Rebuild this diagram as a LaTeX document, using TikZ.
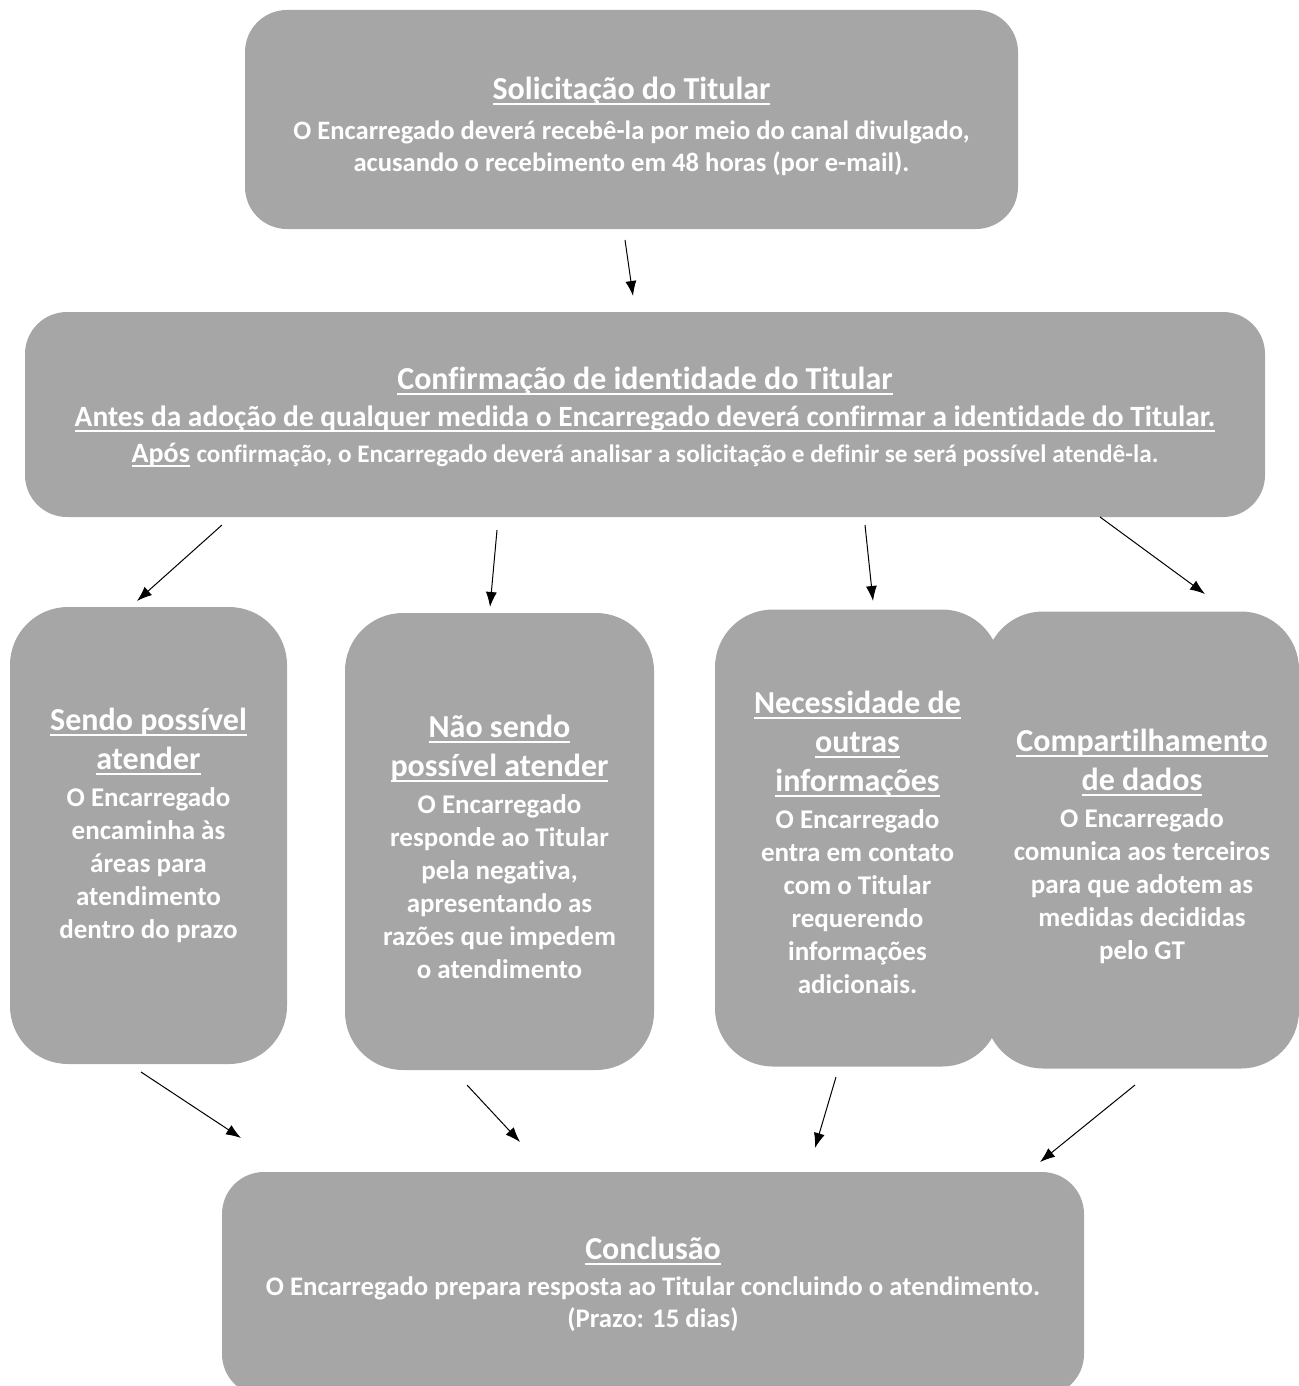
\documentclass[tikz,border=0pt]{standalone}
\usepackage{fontspec}
\setmainfont{Carlito}[Ligatures={NoCommon}]
\usetikzlibrary{arrows.meta}
\definecolor{boxgray}{RGB}{166,166,166}

\newcommand{\uln}[1]{\setbox0=\hbox{#1}\leavevmode\rlap{\vrule width\wd0 height -0.11em depth 0.17em}\box0}
\newcommand{\ttl}[2][32]{{\fontsize{#1}{#1}\selectfont\uln{#2}}}

\begin{document}
\begin{tikzpicture}[x=1pt, y=-1pt,
  flowbox/.style={fill=boxgray, text=white, align=center, inner sep=0pt},
  widebox/.style={flowbox, rounded corners=42pt},
  tallbox/.style={flowbox, rounded corners=58pt, minimum height=457pt,
    font=\bfseries\fontsize{27}{33}\selectfont},
  flowarrow/.style={-{Latex[length=15pt,width=11pt]}, line width=1pt}]

\useasboundingbox (0,0) rectangle (1298,1386);

% top of the flow
\node[widebox, minimum width=773pt, minimum height=219pt,
  font=\bfseries\fontsize{26.6}{32}\selectfont] (sol) at (631.5,119.5)
  {\rule{0pt}{36pt}\ttl{Solicitação do Titular}\\[8pt]
   O Encarregado deverá recebê-la por meio do canal divulgado,\\
   acusando o recebimento em 48 horas (por e-mail).};

\node[widebox, minimum width=1240pt, minimum height=205pt,
  font=\bfseries\fontsize{29.4}{35.5}\selectfont] (conf) at (645,414.5)
  {\rule{0pt}{28pt}\ttl{Confirmação de identidade do Titular}\\[1.5pt]
   \uln{Antes da adoção de qualquer medida o Encarregado deverá confirmar a identidade do Titular.}\\
   {\fontsize{28}{28}\selectfont\uln{Após}} {\fontsize{25.2}{28}\selectfont confirmação, o Encarregado deverá analisar a solicitação e definir se será possível atendê-la.}};

% the four cases
\node[tallbox, minimum width=277pt] (sendo) at (148.5,835.5)
  {\ttl{Sendo possível}\\[6pt]\ttl{atender}\\[4pt]
   O Encarregado\\ encaminha às\\ áreas para\\ atendimento\\ dentro do prazo\rule[-24pt]{0pt}{0pt}};

\node[tallbox, minimum width=309pt] (naosendo) at (499.5,841.5)
  {\rule{0pt}{34pt}\ttl{Não sendo}\\[6pt]\ttl{possível atender}\\[4pt]
   O Encarregado\\ responde ao Titular\\ pela negativa,\\ apresentando as\\ razões que impedem\\ o atendimento};

\node[tallbox, minimum width=285pt] (necess) at (857.5,838)
  {\rule{0pt}{32pt}\ttl{Necessidade de}\\[6pt]\ttl{outras}\\[6pt]\ttl{informações}\\[4pt]
   O Encarregado\\ entra em contato\\ com o Titular\\ requerendo\\ informações\\ adicionais.};

\node[tallbox, minimum width=314pt] (compart) at (1142,840)
  {\rule{0pt}{36pt}\ttl{Compartilhamento}\\[6pt]\ttl{de dados}\\[4pt]
   O Encarregado\\ comunica aos terceiros\\ para que adotem as\\ medidas decididas\\ pelo GT};

% end of the flow
\node[widebox, minimum width=862pt, minimum height=224pt,
  font=\bfseries\fontsize{26.8}{32}\selectfont] (concl) at (653,1284)
  {\ttl{Conclusão}\\[4pt]
   O Encarregado prepara resposta ao Titular concluindo o atendimento.\\
   (Prazo: 15 dias)};

% arrow ends
\coordinate (sol-s) at (625,240);    \coordinate (sol-e) at (633,296);
\coordinate (sendo-s) at (222,525);  \coordinate (sendo-e) at (137,601);
\coordinate (nao-s) at (497,530);    \coordinate (nao-e) at (490,607);
\coordinate (nec-s) at (865,525);    \coordinate (nec-e) at (873,601);
\coordinate (comp-s) at (1100,517);  \coordinate (comp-e) at (1205,594);
\coordinate (c1-s) at (141,1072);    \coordinate (c1-e) at (241,1138);
\coordinate (c2-s) at (467,1085);    \coordinate (c2-e) at (520,1142);
\coordinate (c3-s) at (836,1077);    \coordinate (c3-e) at (815,1148);
\coordinate (c4-s) at (1135,1085);   \coordinate (c4-e) at (1040,1162);

\draw[flowarrow] (sol-s) -- (sol-e);
\draw[flowarrow] (sendo-s) -- (sendo-e);
\draw[flowarrow] (nao-s) -- (nao-e);
\draw[flowarrow] (nec-s) -- (nec-e);
\draw[flowarrow] (comp-s) -- (comp-e);
\draw[flowarrow] (c1-s) -- (c1-e);
\draw[flowarrow] (c2-s) -- (c2-e);
\draw[flowarrow] (c3-s) -- (c3-e);
\draw[flowarrow] (c4-s) -- (c4-e);

\end{tikzpicture}
\end{document}
